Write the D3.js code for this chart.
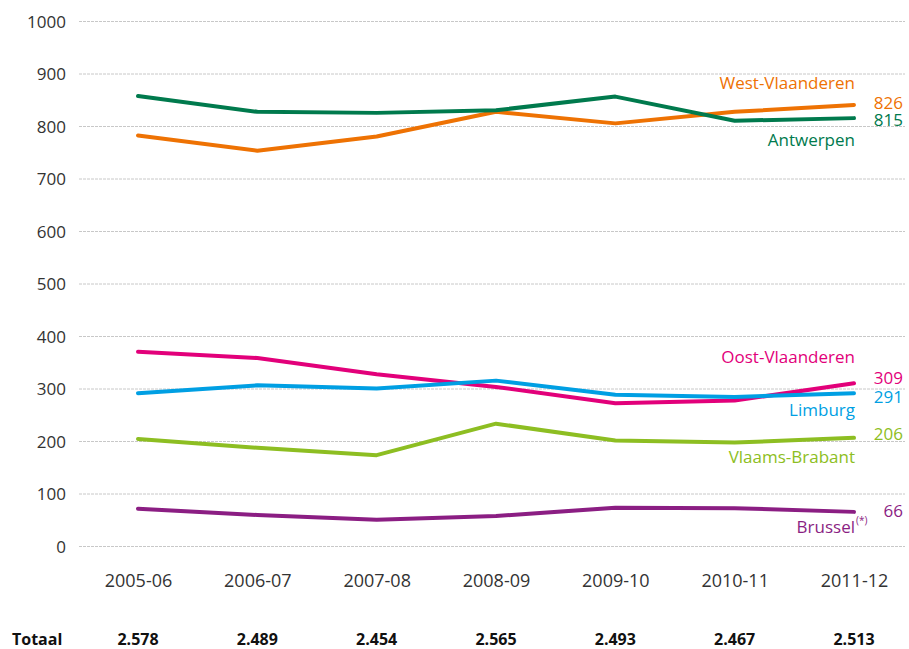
<!DOCTYPE html>
<html>
<head>
<meta charset="utf-8">
<script src="https://cdn.jsdelivr.net/npm/d3@7"></script>
<style>
  body { margin: 0; background: #fff; }
  text { font-family: "Open Sans", "Noto Sans", sans-serif; }
  .tick text { fill: #333; }
</style>
</head>
<body>
<div id="chart"></div>
<script>
var seasons = ["2005-06", "2006-07", "2007-08", "2008-09", "2009-10", "2010-11", "2011-12"];
var yTicks = [0, 100, 200, 300, 400, 500, 600, 700, 800, 900, 1000];

var westVlaanderen = [782, 753, 780, 827, 805, 827, 840];
var antwerpen      = [857, 827, 825, 830, 856, 810, 815];
var oostVlaanderen = [370, 358, 327, 303, 272, 277, 310];
var limburg        = [291, 306, 300, 315, 288, 284, 291];
var vlaamsBrabant  = [204, 187, 173, 233, 201, 197, 206];
var brussel        = [71, 59, 50, 57, 73, 72, 65];

var regionNames = ["West-Vlaanderen", "Antwerpen", "Oost-Vlaanderen", "Limburg", "Vlaams-Brabant", "Brussel"];
var endValues = ["826", "815", "309", "291", "206", "66"];
var totals = ["2.578", "2.489", "2.454", "2.565", "2.493", "2.467", "2.513"];

var series = [
  {name: regionNames[0], values: westVlaanderen, color: "#ee7203", end: endValues[0], nameY: 89, endY: 109},
  {name: regionNames[1], values: antwerpen, color: "#007a4d", end: endValues[1], nameY: 146, endY: 126},
  {name: regionNames[2], values: oostVlaanderen, color: "#e2007a", end: endValues[2], nameY: 363, endY: 384},
  {name: regionNames[3], values: limburg, color: "#009fe3", end: endValues[3], nameY: 416, endY: 403},
  {name: regionNames[4], values: vlaamsBrabant, color: "#8dbe22", end: endValues[4], nameY: 463, endY: 440},
  {name: regionNames[5], values: brussel, color: "#8b1e83", end: endValues[5], nameY: 533, endY: 517}
];

var W = 909, H = 649;

var svg = d3.select("#chart")
  .append("svg")
    .attr("width", W)
    .attr("height", H);

var x = d3.scalePoint()
  .domain(seasons)
  .range([138, 854]);

var y = d3.scaleLinear()
  .domain([0, 1000])
  .range([546, 21]);

// gridlines
svg.append("g")
  .selectAll("line")
  .data(yTicks)
  .join("line")
    .attr("x1", 79)
    .attr("x2", 905)
    .attr("y1", d => y(d) + 0.5)
    .attr("y2", d => y(d) + 0.5)
    .attr("stroke", "#c8c8c8")
    .attr("stroke-width", 1)
    .attr("stroke-dasharray", "3,1");

// y axis
svg.append("g")
  .attr("transform", "translate(66,0)")
  .call(d3.axisLeft(y).tickValues(yTicks).tickFormat(d3.format("d")).tickSize(0).tickPadding(0))
  .call(g => g.select(".domain").remove())
  .selectAll("text")
    .style("font-size", "17px")
    .attr("dy", "0.36em");

// x axis
svg.append("g")
  .attr("transform", "translate(0,570)")
  .call(d3.axisBottom(x).tickSize(0).tickPadding(0))
  .call(g => g.select(".domain").remove())
  .selectAll("text")
    .style("font-size", "18px")
    .attr("dy", "0.95em");

// lines
var line = d3.line()
  .x((d, i) => x(seasons[i]))
  .y(d => y(d));

svg.append("g")
  .selectAll("path")
  .data(series)
  .join("path")
    .attr("d", d => line(d.values))
    .attr("fill", "none")
    .attr("stroke", d => d.color)
    .attr("stroke-width", 4)
    .attr("stroke-linejoin", "round")
    .attr("stroke-linecap", "round");

// region names
svg.append("g")
  .selectAll("text")
  .data(series)
  .join("text")
    .attr("x", 855)
    .attr("y", d => d.nameY)
    .attr("text-anchor", "end")
    .attr("fill", d => d.color)
    .style("font-size", "17px")
    .text(d => d.name);

// superscript for Brussel
svg.append("text")
  .attr("x", 856)
  .attr("y", 524)
  .attr("fill", series[5].color)
  .style("font-size", "10px")
  .text("(*)");

// end values
svg.append("g")
  .selectAll("text")
  .data(series)
  .join("text")
    .attr("x", 903)
    .attr("y", d => d.endY)
    .attr("text-anchor", "end")
    .attr("fill", d => d.color)
    .style("font-size", "17px")
    .text(d => d.end);

// totals row
svg.append("text")
  .attr("x", 12)
  .attr("y", 645)
  .attr("font-weight", "bold")
  .style("font-size", "16px")
  .attr("fill", "#111")
  .text("Totaal");

svg.append("g")
  .selectAll("text")
  .data(totals)
  .join("text")
    .attr("x", (d, i) => x(seasons[i]))
    .attr("y", 645)
    .attr("text-anchor", "middle")
    .attr("font-weight", "bold")
    .style("font-size", "16px")
    .attr("fill", "#111")
    .text(d => d);
</script>
</body>
</html>
